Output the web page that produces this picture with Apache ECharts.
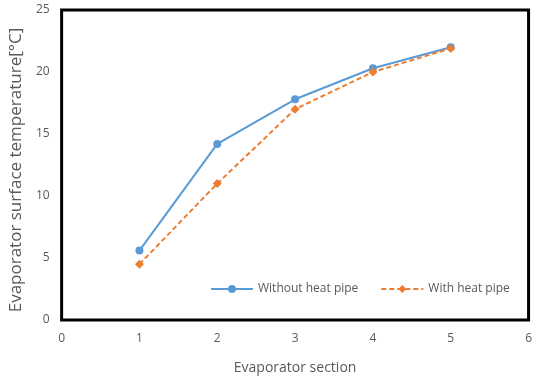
<!DOCTYPE html>
<html><head><meta charset="utf-8">
<script src="https://cdn.jsdelivr.net/npm/echarts@6/dist/echarts.min.js"></script>
<style>html,body{margin:0;padding:0;background:#fff}#c{width:535px;height:380px}</style>
</head><body><div id="c"></div>
<script>
var sections = [1, 2, 3, 4, 5];
var withoutHeatPipe = [5.6, 14.2, 17.8, 20.3, 22.0];
var withHeatPipe = [4.5, 11.0, 17.0, 20.0, 21.9];
var xTicks = [0, 1, 2, 3, 4, 5, 6];
var yTicks = [0, 5, 10, 15, 20, 25];

var font = '"Open Sans", sans-serif';
var chart = echarts.init(document.getElementById('c'));
chart.setOption({
  animation: false,
  grid: {left: 59, top: 10, right: 5, bottom: 59, show: true, borderColor: '#000', borderWidth: 3, backgroundColor: 'transparent'},
  legend: {
    top: 278, left: 205, itemWidth: 42, itemHeight: 10, itemGap: 22,
    textStyle: {color: '#595959', fontSize: 12, fontFamily: font},
    data: ['Without heat pipe', 'With heat pipe']
  },
  xAxis: {
    type: 'value', min: xTicks[0], max: xTicks[xTicks.length - 1], interval: 1,
    name: 'Evaporator section', nameLocation: 'middle', nameGap: 41,
    nameTextStyle: {color: '#595959', fontSize: 14, fontFamily: font},
    axisLine: {show: false}, axisTick: {show: false}, splitLine: {show: false},
    axisLabel: {color: '#595959', fontSize: 12, fontFamily: font, margin: 13}
  },
  yAxis: {
    type: 'value', min: yTicks[0], max: yTicks[yTicks.length - 1], interval: 5,
    name: 'Evaporator surface temperature[°C]', nameLocation: 'middle', nameGap: 30,
    nameTextStyle: {color: '#595959', fontSize: 17, fontFamily: font, padding: [0, 10, 0, 0]},
    axisLine: {show: false}, axisTick: {show: false}, splitLine: {show: false},
    axisLabel: {color: '#595959', fontSize: 12, fontFamily: font, margin: 12}
  },
  series: [
    {
      name: 'Without heat pipe', type: 'line',
      data: sections.map(function (s, i) { return [s, withoutHeatPipe[i]]; }),
      symbol: 'circle', symbolSize: 8,
      lineStyle: {color: '#5B9BD5', width: 2},
      itemStyle: {color: '#5B9BD5'}
    },
    {
      name: 'With heat pipe', type: 'line',
      data: sections.map(function (s, i) { return [s, withHeatPipe[i]]; }),
      symbol: 'diamond', symbolSize: 9,
      lineStyle: {color: '#ED7D31', width: 2, type: [5, 3]},
      itemStyle: {color: '#ED7D31'}
    }
  ]
});
</script></body></html>
